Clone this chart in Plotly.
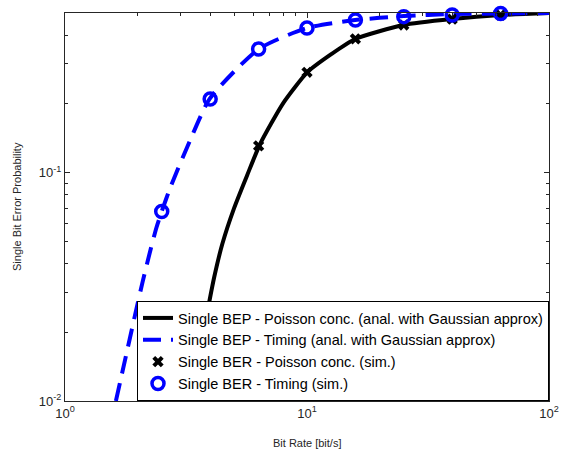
import plotly.graph_objects as go

# Analytical curves
bep_poisson_x = [3.314, 3.886, 4.137, 4.470, 4.989, 5.649, 6.400, 7.988, 10.07, 12.64, 15.82, 25.02, 39.8, 63.1, 100.0]
bep_poisson_y = [0.0100, 0.02496, 0.0349, 0.0488, 0.0696, 0.0970, 0.1334, 0.2021, 0.2761, 0.3309, 0.3847, 0.4429, 0.4704, 0.4898, 0.4995]

bep_timing_x = [1.623, 1.770, 1.926, 2.095, 2.258, 2.388, 2.510, 2.723, 3.282, 3.959, 6.322, 10.0, 15.8, 25.1, 39.8, 63.1, 100.0]
bep_timing_y = [0.0100, 0.0151, 0.02258, 0.03342, 0.04611, 0.05752, 0.06757, 0.08601, 0.1379, 0.2104, 0.3479, 0.4297, 0.4657, 0.4847, 0.4945, 0.4973, 0.4995]

# Simulated points
ber_poisson_x = [3.98, 6.31, 10.0, 15.85, 25.12, 39.81, 63.10]
ber_poisson_y = [0.0240, 0.131, 0.275, 0.385, 0.443, 0.470, 0.490]

ber_timing_x = [2.51, 3.98, 6.31, 10.0, 15.85, 25.12, 39.81, 63.10]
ber_timing_y = [0.0676, 0.210, 0.348, 0.430, 0.466, 0.482, 0.490, 0.498]

x_tickvals = [1, 10, 100]
x_ticktext = ["10<sup>0</sup>", "10<sup>1</sup>", "10<sup>2</sup>"]
y_tickvals = [0.01, 0.1]
y_ticktext = ["10<sup>-2</sup>", "10<sup>-1</sup>"]
x_minor = [2, 3, 4, 5, 6, 7, 8, 9, 20, 30, 40, 50, 60, 70, 80, 90]
y_minor = [0.02, 0.03, 0.04, 0.05, 0.06, 0.07, 0.08, 0.09, 0.2, 0.3, 0.4]

AX = "#262626"
FONT = "Liberation Sans, Arial, Helvetica, sans-serif"

fig = go.Figure()
fig.add_trace(go.Scatter(
    x=bep_poisson_x, y=bep_poisson_y, mode="lines",
    line=dict(color="black", width=4, shape="spline", smoothing=0.6),
    name="Single BEP - Poisson conc. (anal. with Gaussian approx)"))
fig.add_trace(go.Scatter(
    x=bep_timing_x, y=bep_timing_y, mode="lines",
    line=dict(color="#0000ff", width=4, dash="18px,10px", shape="spline", smoothing=0.6),
    name="Single BEP - Timing (anal. with Gaussian approx)"))
fig.add_trace(go.Scatter(
    x=ber_poisson_x, y=ber_poisson_y, mode="markers", cliponaxis=False,
    marker=dict(symbol="x", color="black", size=10, line=dict(width=0)),
    name="Single BER - Poisson conc. (sim.)"))
fig.add_trace(go.Scatter(
    x=ber_timing_x, y=ber_timing_y, mode="markers", cliponaxis=False,
    marker=dict(symbol="circle-open", color="#0000ff", size=12, line=dict(width=3.5, color="#0000ff")),
    name="Single BER - Timing (sim.)"))

axis_common = dict(
    showline=True, linecolor=AX, linewidth=1, mirror="allticks",
    ticks="inside", ticklen=5, tickcolor=AX, tickwidth=1,
    showgrid=False, zeroline=False,
    tickfont=dict(family=FONT, size=13, color=AX),
)

fig.update_xaxes(type="log", range=[0, 2], tickmode="array",
                 tickvals=x_tickvals, ticktext=x_ticktext,
                 minor=dict(tickmode="array", tickvals=x_minor, ticks="inside",
                            ticklen=3, tickcolor=AX, showgrid=False),
                 **axis_common)
fig.update_yaxes(type="log", range=[-2, -0.30103], tickmode="array",
                 tickvals=y_tickvals, ticktext=y_ticktext,
                 minor=dict(tickmode="array", tickvals=y_minor, ticks="inside",
                            ticklen=3, tickcolor=AX, showgrid=False),
                 **axis_common)

fig.update_layout(
    width=571, height=451,
    margin=dict(l=65, r=14, t=13, b=50),
    paper_bgcolor="white", plot_bgcolor="white",
    font=dict(family=FONT, color=AX),
    showlegend=True,
    legend=dict(x=1, y=0, xanchor="right", yanchor="bottom",
                bgcolor="white", bordercolor="black", borderwidth=1,
                font=dict(family=FONT, size=14.5, color="black"),
                itemwidth=30, tracegroupgap=0),
    annotations=[
        dict(text="Bit Rate [bit/s]", xref="paper", yref="paper", x=0.5, y=0,
             yshift=-42, showarrow=False, font=dict(family=FONT, size=11, color=AX),
             xanchor="center", yanchor="middle"),
        dict(text="Single Bit Error Probability", xref="paper", yref="paper", x=0, y=0.5,
             xshift=-48, showarrow=False, textangle=-90,
             font=dict(family=FONT, size=11, color=AX),
             xanchor="center", yanchor="middle"),
    ],
)

fig.write_html("out.html")
